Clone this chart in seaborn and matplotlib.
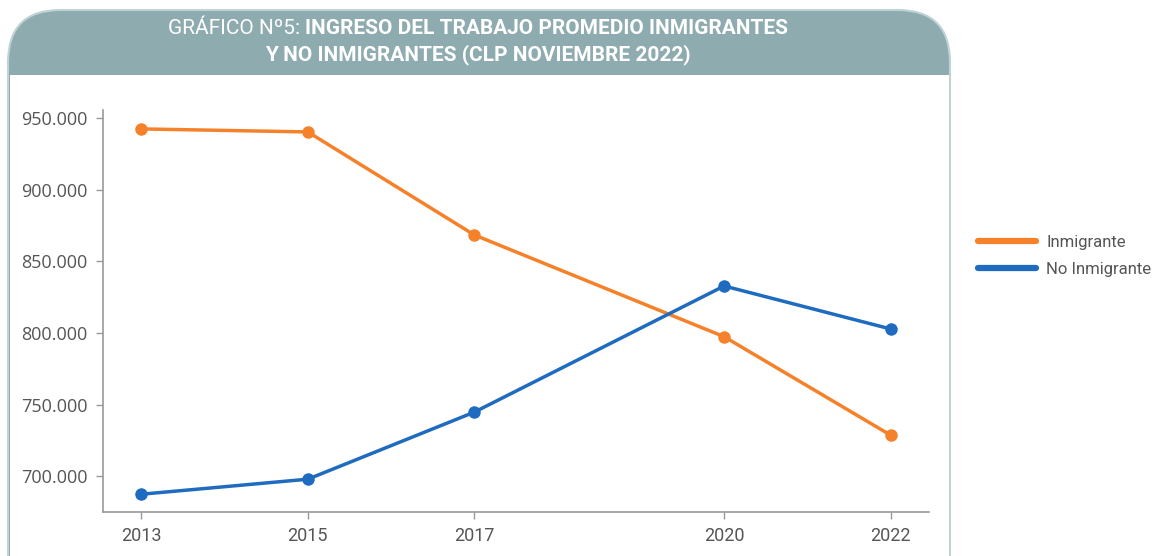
import matplotlib
matplotlib.use("Agg")
import matplotlib.pyplot as plt
from matplotlib.patches import FancyBboxPatch, Rectangle
from matplotlib.lines import Line2D
from matplotlib.ticker import FuncFormatter
import seaborn as sns
import pandas as pd

years = [2013, 2015, 2017, 2020, 2022]
inmigrante = [942300, 940200, 868300, 797300, 728600]
no_inmigrante = [687400, 697900, 744700, 832700, 802700]
series_names = ["Inmigrante", "No Inmigrante"]
colors = ["#F5822A", "#1F6BBF"]
title_light = "GRÁFICO Nº5: "
title_bold1 = "INGRESO DEL TRABAJO PROMEDIO INMIGRANTES"
title_bold2 = "Y NO INMIGRANTES (CLP NOVIEMBRE 2022)"
yticks = [700000, 750000, 800000, 850000, 900000, 950000]

df = pd.DataFrame({
    "year": years * 2,
    "value": inmigrante + no_inmigrante,
    "serie": [series_names[0]] * len(years) + [series_names[1]] * len(years),
})

sns.set_theme(style="white")
plt.rcParams["font.family"] = ["Roboto", "DejaVu Sans"]

W, H = 1163, 556
fig = plt.figure(figsize=(W / 100, H / 100), dpi=100)
fig.patch.set_facecolor("white")

# frame with rounded top
border = "#BFD2D5"
banner = "#8EABAF"
x0, x1 = 8 / W, 950 / W
ytop = 1 - 10 / H
frame = FancyBboxPatch((x0, -0.2), x1 - x0, ytop + 0.2,
                       boxstyle="round,pad=0,rounding_size=0.045",
                       transform=fig.transFigure, facecolor=banner,
                       edgecolor=border, linewidth=1.5, mutation_aspect=W / H,
                       zorder=0)
fig.patches.append(frame)
inner = Rectangle((x0 + 1.5 / W, -0.2), x1 - x0 - 3 / W, (1 - 75 / H) + 0.2,
                  transform=fig.transFigure, facecolor="white", edgecolor="none",
                  zorder=0.5)
fig.patches.append(inner)

ax = fig.add_axes([103 / W, 1 - 512 / H, (929 - 103) / W, (512 - 110) / H])
ax.set_zorder(3)
ax.set_facecolor("none")
sns.lineplot(data=df, x="year", y="value", hue="serie", palette=colors,
             marker="o", markersize=9, markeredgewidth=0, linewidth=2.5,
             ax=ax, legend=False)

ax.set_xlim(2012.54, 2022.46)
ax.set_ylim(675000, 955500)
ax.set_xticks(years)
ax.set_xticklabels([str(y) for y in years])
ax.set_yticks(yticks)
ax.yaxis.set_major_formatter(FuncFormatter(lambda v, p: f"{int(v):,}".replace(",", ".")))
ax.set_xlabel("")
ax.set_ylabel("")
for s in ["top", "right"]:
    ax.spines[s].set_visible(False)
for s in ["left", "bottom"]:
    ax.spines[s].set_color("#9A9A9A")
    ax.spines[s].set_linewidth(1.2)
ax.tick_params(axis="both", which="both", length=5, width=1, color="#9A9A9A",
               colors="#555555", direction="out", left=True, bottom=True)
for lab in ax.get_yticklabels():
    lab.set_fontfamily(["Open Sans", "DejaVu Sans"])
    lab.set_fontsize(13)
    lab.set_color("#555555")
for lab in ax.get_xticklabels():
    lab.set_fontsize(13)
    lab.set_color("#555555")
ax.tick_params(axis="x", pad=6)
ax.tick_params(axis="y", pad=6)

handles = [Line2D([0], [0], color=c, lw=4.5, solid_capstyle="round") for c in colors]
fig.legend(handles, series_names, loc="center left",
           bbox_to_anchor=(978 / W, 1 - 256 / H), frameon=False, borderpad=0,
           borderaxespad=0,
           handlelength=3.5, handletextpad=0.6, labelspacing=0.75,
           prop={"family": ["Roboto", "DejaVu Sans"], "size": 12},
           labelcolor="#555555")

# title
fig.canvas.draw()
r = fig.canvas.get_renderer()
fs = 15
t1 = fig.text(0, 1 - 29 / H, title_light, color="white", fontsize=fs,
              fontweight="normal", va="center", ha="left", zorder=5)
t2 = fig.text(0, 1 - 29 / H, title_bold1, color="white", fontsize=fs,
              fontweight="bold", va="center", ha="left", zorder=5)
w1 = t1.get_window_extent(r).width
w2 = t2.get_window_extent(r).width
cx = 478
start = cx - (w1 + w2) / 2
t1.set_x(start / W)
t2.set_x((start + w1) / W)
fig.text(cx / W, 1 - 55 / H, title_bold2, color="white", fontsize=fs,
         fontweight="bold", va="center", ha="center", zorder=5)

fig.savefig("out.png", dpi=100)
